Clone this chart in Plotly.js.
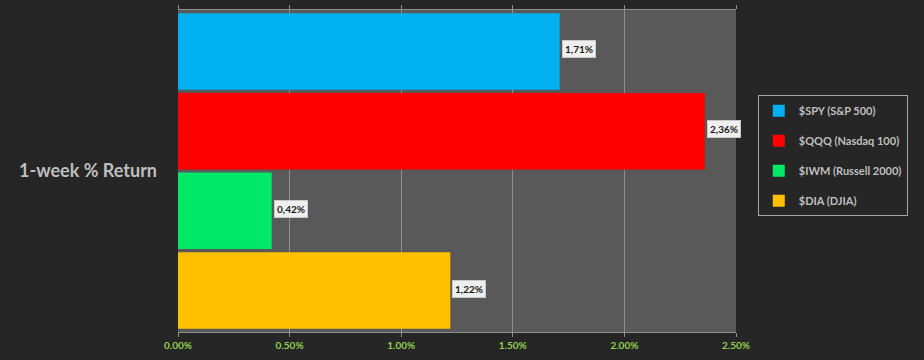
<!DOCTYPE html>
<html>
<head>
<meta charset="utf-8">
<script src="https://cdn.plot.ly/plotly-3.0.1.min.js"></script>
<style>
  html, body { margin: 0; padding: 0; background: #262626; }
  #chart { width: 924px; height: 360px; }
</style>
</head>
<body>
<div id="chart"></div>
<script>
const category = ['1-week % Return'];
const seriesNames = ['$SPY (S&P 500)', '$QQQ (Nasdaq 100)', '$IWM (Russell 2000)', '$DIA (DJIA)'];
const seriesValues = [1.71, 2.36, 0.42, 1.22];
const seriesColors = ['#00b0f0', '#ff0000', '#00e868', '#ffc000'];
const xTickVals = [0, 0.5, 1.0, 1.5, 2.0, 2.5];

const bargap = 0.01, bargroupgap = 0.04;
const n = seriesNames.length;
const slot = (1 - bargap) / n;

const traces = seriesNames.map((name, i) => ({
  type: 'bar',
  orientation: 'h',
  name: name,
  y: category,
  x: [seriesValues[i]],
  marker: { color: seriesColors[i], line: { width: 0 } },
  legendgroup: 'g' + i,
  hoverinfo: 'x+name'
}));

const annotations = seriesValues.map((v, i) => ({
  x: v,
  y: -(1 - bargap) / 2 + slot * (i + 0.5),
  xref: 'x', yref: 'y',
  text: v.toFixed(2).replace('.', ',') + '%',
  showarrow: false,
  xanchor: 'left', yanchor: 'middle',
  xshift: 2, yshift: 2,
  bgcolor: '#efefef',
  bordercolor: '#c8c8c8',
  borderwidth: 1,
  borderpad: 2,
  font: { family: 'Lato, sans-serif', size: 10, color: '#1a1a1a', weight: 'bold' }
}));

const layout = {
  width: 924, height: 360,
  margin: { l: 178, r: 188, t: 10, b: 28, pad: 0 },
  paper_bgcolor: '#262626',
  plot_bgcolor: '#595959',
  barmode: 'group',
  bargap: bargap,
  bargroupgap: bargroupgap,
  font: { family: 'Lato, sans-serif', color: '#bfbfbf' },
  xaxis: {
    range: [0, 2.5],
    tickvals: xTickVals,
    ticktext: xTickVals.map(v => v.toFixed(2) + '%'),
    showgrid: true,
    gridcolor: '#8f8f8f',
    gridwidth: 1,
    zeroline: false,
    showline: true,
    linecolor: '#8f8f8f',
    linewidth: 1,
    mirror: 'ticks',
    ticks: 'outside',
    ticklen: 4,
    tickcolor: '#8f8f8f',
    tickfont: { family: 'Lato, sans-serif', size: 10, color: '#92d050', weight: 'bold' },
    fixedrange: true
  },
  yaxis: {
    type: 'category',
    autorange: 'reversed',
    showgrid: false,
    zeroline: false,
    showline: false,
    ticks: '',
    ticklabelstandoff: 20,
    tickfont: { family: 'Lato, sans-serif', size: 18, color: '#bfbfbf', weight: 'bold' },
    fixedrange: true
  },
  legend: {
    x: 1.039, xanchor: 'left',
    y: 0.735, yanchor: 'top',
    bgcolor: '#262626',
    bordercolor: '#a6a6a6',
    borderwidth: 1,
    tracegroupgap: 11,
    entrywidth: 118,
    font: { family: 'Lato, sans-serif', size: 11, color: '#bfbfbf', weight: 'bold' },
    traceorder: 'grouped'
  },
  annotations: annotations,
  showlegend: true
};

Plotly.newPlot('chart', traces, layout, { displayModeBar: false, staticPlot: true });
</script>
</body>
</html>
